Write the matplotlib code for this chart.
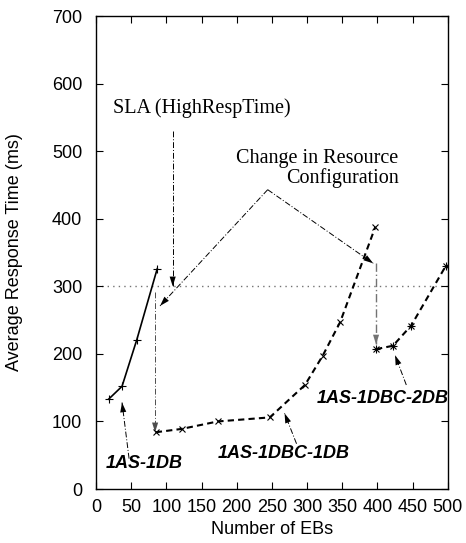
import matplotlib
matplotlib.use('Agg')
import matplotlib.pyplot as plt

# number of EBs vs average response time (ms)
ebs_1db = [18, 37, 58, 87]
rt_1db = [133, 152, 221, 326]
ebs_1dbc_1db = [85, 122, 173, 247, 297, 322, 347, 397]
rt_1dbc_1db = [84, 89, 100, 106, 154, 197, 247, 388]
ebs_1dbc_2db = [398, 422, 448, 497]
rt_1dbc_2db = [207, 212, 242, 330]

sla_level = 300
xticks = list(range(0, 501, 50))
yticks = list(range(0, 701, 100))

# annotation geometry (data coords)
sla_text = (24, 563)
sla_arrow = [(109, 530), (109, 300)]
change_text = (430, 475)
change_peak = (244, 443)
change_left = (91, 271)
change_right = (394, 334)
drop_left = [(84, 292), (84, 84)]
drop_right = [(398, 334), (398, 214)]
labels = [
    ('1AS-1DB', (14, 38), (47, 45), (37, 128)),
    ('1AS-1DBC-1DB', (173, 52), (285, 67), (268, 112)),
    ('1AS-1DBC-2DB', (313, 134), (441, 154), (425, 198)),
]

fs = 13
sans = ['Liberation Sans', 'DejaVu Sans']
serif = ['Liberation Serif', 'DejaVu Serif']
plt.rcParams['font.family'] = sans

fig = plt.figure(figsize=(4.66, 5.43), dpi=100)
ax = fig.add_axes([0.206, 0.0994, 0.755, 0.8711])

ax.set_xlim(0, 500)
ax.set_ylim(0, 700)
ax.set_xticks(xticks)
ax.set_yticks(yticks)
ax.tick_params(direction='in', length=5, width=0.8, top=True, right=True,
               labelsize=fs)
ax.tick_params(axis='x', pad=7.5)
ax.tick_params(axis='y', pad=10)
for sp in ax.spines.values():
    sp.set_linewidth(1.0)

ax.axhline(sla_level, color='0.45', linestyle=(0, (1, 3)), linewidth=1.0, zorder=1)

ax.plot(ebs_1db, rt_1db, color='k', linewidth=1.2, marker='+', markersize=6,
        markeredgewidth=0.8, zorder=3)
ax.plot(ebs_1dbc_1db, rt_1dbc_1db, color='k', linewidth=1.5, linestyle=(0, (3, 2)),
        marker='x', markersize=5, markeredgewidth=0.8, zorder=3)
ax.plot(ebs_1dbc_2db, rt_1dbc_2db, color='k', linewidth=1.5, linestyle=(0, (3, 2)),
        marker='x', markersize=5, markeredgewidth=0.8, zorder=3)
ax.plot(ebs_1dbc_2db, rt_1dbc_2db, color='k', linestyle='none',
        marker='+', markersize=6, markeredgewidth=0.8, zorder=3)

dashdot = (0, (6, 2, 1, 2))


def arrow_line(pts, color='k', lw=0.7):
    xs = [p[0] for p in pts]
    ys = [p[1] for p in pts]
    ax.plot(xs, ys, color=color, linewidth=lw, linestyle=dashdot, zorder=2)
    ax.annotate('', xy=pts[-1], xytext=pts[-2],
                arrowprops=dict(arrowstyle='-|>,head_length=0.7,head_width=0.22',
                                color=color, lw=0, shrinkA=0, shrinkB=0),
                zorder=2)


# SLA annotation
ax.text(*sla_text, 'SLA (HighRespTime)', family=serif, fontsize=14.5,
        ha='left', va='center')
arrow_line(sla_arrow)

# resource configuration change
ax.text(*change_text, 'Change in Resource\nConfiguration', family=serif,
        fontsize=14.5, ha='right', va='center', linespacing=1.0,
        multialignment='right')
arrow_line([change_peak, change_left])
arrow_line([change_peak, change_right])
arrow_line(drop_left, color='0.3')
arrow_line(drop_right, color='0.45', lw=1.0)

for txt, pos, tail, tip in labels:
    ax.text(*pos, txt, fontsize=13, fontweight='bold', fontstyle='italic',
            ha='left', va='center', zorder=4)
    arrow_line([tail, tip])

ax.set_xlabel('Number of EBs', fontsize=fs)
ax.set_ylabel('Average Response Time (ms)', fontsize=fs)
ax.xaxis.set_label_coords(0.5, -0.068)
ax.yaxis.set_label_coords(-0.207, 0.5)

fig.savefig('out.png', dpi=100)
plt.close(fig)
